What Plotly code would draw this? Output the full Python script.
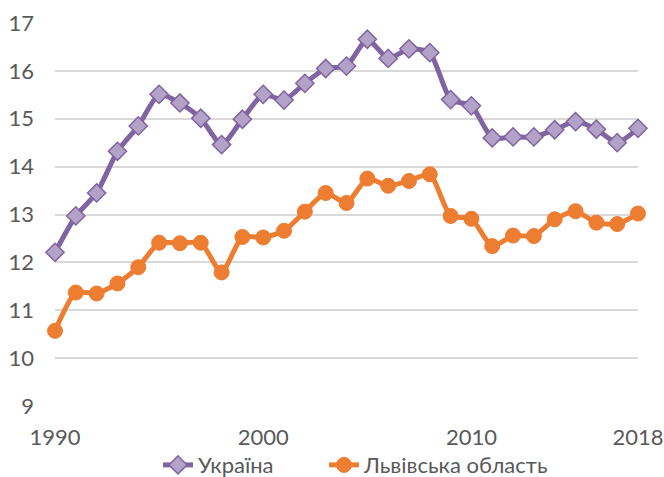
import plotly.graph_objects as go

years = list(range(1990, 2019))
ukraine = [12.21, 12.97, 13.45, 14.32, 14.85, 15.51, 15.33, 15.01, 14.46, 14.99,
           15.51, 15.39, 15.74, 16.05, 16.10, 16.66, 16.26, 16.46, 16.38, 15.40,
           15.27, 14.60, 14.62, 14.62, 14.77, 14.94, 14.78, 14.50, 14.80]
lviv = [10.57, 11.37, 11.35, 11.56, 11.90, 12.41, 12.40, 12.41, 11.79, 12.53,
        12.52, 12.66, 13.06, 13.45, 13.24, 13.75, 13.60, 13.70, 13.84, 12.97,
        12.91, 12.34, 12.56, 12.55, 12.90, 13.07, 12.83, 12.80, 13.02]
names = ["Україна", "Львівська область"]
x_ticks = [1990, 2000, 2010, 2018]
y_ticks = [9, 10, 11, 12, 13, 14, 15, 16, 17]

fig = go.Figure()
fig.add_trace(go.Scatter(
    x=years, y=ukraine, name=names[0], mode="lines+markers", cliponaxis=False,
    legend="legend",
    line=dict(color="#8064A2", width=5, shape="spline", smoothing=0.6),
    marker=dict(symbol="diamond", size=14, color="#B3A2C7",
                line=dict(color="#8064A2", width=1.5)),
))
fig.add_trace(go.Scatter(
    x=years, y=lviv, name=names[1], mode="lines+markers", cliponaxis=False,
    legend="legend2",
    line=dict(color="#ED7D31", width=5, shape="spline", smoothing=0.6),
    marker=dict(symbol="circle", size=15, color="#ED7D31",
                line=dict(color="#ED7D31", width=1)),
))

font = "Lato, 'Open Sans', sans-serif"
leg_common = dict(orientation="h", xanchor="left", xref="container",
                  y=0.025, yanchor="middle", yref="container",
                  font=dict(size=22, color="#595959"), bgcolor="rgba(0,0,0,0)")
fig.update_layout(
    width=664, height=477,
    margin=dict(l=55, r=26, t=23, b=71, autoexpand=False),
    paper_bgcolor="white", plot_bgcolor="white",
    font=dict(family=font, size=22, color="#595959"),
    showlegend=True,
    legend=dict(x=158 / 664, **leg_common),
    legend2=dict(x=324 / 664, **leg_common),
    xaxis=dict(range=[1990, 2018], tickvals=x_ticks, ticktext=[str(v) for v in x_ticks],
               showgrid=False, zeroline=False, showline=False, ticks="",
               ticklabelstandoff=16),
    yaxis=dict(range=[9, 17], tickvals=y_ticks, showgrid=True, gridcolor="#D9D9D9",
               gridwidth=1.5, zeroline=False, showline=False, ticks="",
               ticklabelstandoff=20),
)
fig.write_html("out.html", config={"displayModeBar": False},
               post_script="document.body.style.margin='0';document.body.style.overflow='hidden';")
